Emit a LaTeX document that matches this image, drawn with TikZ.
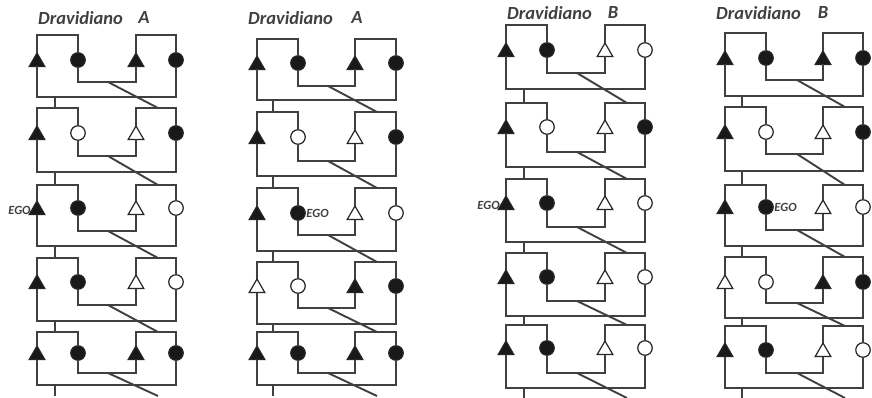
\documentclass[tikz,border=0pt]{standalone}
\usepackage{fontspec}
\newfontfamily\titlefont{Carlito}
\usetikzlibrary{shapes.geometric}
\tikzset{
  kin/.style={draw=black!75, line width=1.9pt},
  sym/.style={draw=black!85, line width=1.2pt, inner sep=0pt, outer sep=0pt},
  trifill/.style={sym, regular polygon, regular polygon sides=3, minimum size=18pt, fill=black!90, yshift=-2pt},
  triopen/.style={sym, regular polygon, regular polygon sides=3, minimum size=18pt, fill=white, yshift=-2pt},
  circfill/.style={sym, circle, minimum size=14.5pt, fill=black!90},
  circopen/.style={sym, circle, minimum size=14.5pt, fill=white},
  ttl/.style={text=black!75, font=\titlefont\bfseries\itshape\fontsize{18.5}{18.5}\selectfont, inner sep=0pt},
  ego/.style={text=black!75, font=\titlefont\bfseries\itshape\fontsize{12.5}{12.5}\selectfont, inner sep=1pt}
}
\newcommand{\kinrows}[1]{%
  \foreach \r/\ys/\ym/\yu/\yb/\yn/\sa/\sb/\sc/\sd in #1 {
    \node[\sa] (c\cc a\r) at (\xa,\ym) {};
    \node[\sb] (c\cc b\r) at (\xb,\ym) {};
    \node[\sc] (c\cc c\r) at (\xc,\ym) {};
    \node[\sd] (c\cc f\r) at (\xf,\ym) {};
    \coordinate (c\cc s\r) at (\xd,\ys);
    \coordinate (c\cc e\r) at (\xe,\ys);
    \coordinate (c\cc u\r) at (\xs,\yu);
    \coordinate (c\cc v\r) at (\xd,\yb);
    \coordinate (c\cc n\r) at (\xd,\yn);
    \coordinate (c\cc m\r) at (\xe,\yn);
    \draw[kin] (c\cc a\r.north) |- (c\cc s\r) -| (c\cc b\r.north);
    \draw[kin] (c\cc c\r.north) |- (c\cc e\r) -| (c\cc f\r.north);
    \draw[kin] (c\cc b\r.south) |- (c\cc u\r) -| (c\cc c\r.south);
    \draw[kin] (c\cc a\r.south) |- (c\cc v\r) -| (c\cc f\r.south);
    \draw[kin] (c\cc v\r) -- (c\cc n\r);
    \draw[kin] (c\cc u\r) -- (c\cc m\r);
  }%
}
\begin{document}
\begin{tikzpicture}[x=1pt,y=-1pt]
\useasboundingbox[fill=white] (0,0) rectangle (872,398);
% column 1
\def\cc{1}\def\xa{37}\def\xb{78}\def\xc{136}\def\xf{176}\def\xd{55}\def\xs{108}\def\xe{158}
\kinrows{{1/35/60/82/97/108/trifill/circfill/trifill/circfill,
 2/108/133/156/172/185/trifill/circopen/triopen/circfill,
 3/185/208/231/246/258/trifill/circfill/triopen/circopen,
 4/258/282/305/321/332/trifill/circfill/triopen/circopen,
 5/332/353/373/385/396/trifill/circfill/trifill/circfill}}
\node[ttl, anchor=west] (t1) at (38,18) {Dravidiano};
\node[ttl] (t1b) at (144,18) {A};
\node[ego, anchor=east] (ego1) at (c1a3.west) {EGO};
% column 2
\def\cc{2}\def\xa{257}\def\xb{298}\def\xc{355}\def\xf{396}\def\xd{273}\def\xs{328}\def\xe{377}
\kinrows{{1/39/63/86/100/112/trifill/circfill/trifill/circfill,
 2/112/137/161/176/188/trifill/circopen/triopen/circfill,
 3/188/213/235/251/262/trifill/circfill/triopen/circopen,
 4/262/286/308/324/332/triopen/circopen/trifill/circfill,
 5/332/353/373/385/396/trifill/circfill/trifill/circfill}}
\node[ttl, anchor=west] (t2) at (248,18) {Dravidiano};
\node[ttl] (t2b) at (357,18) {A};
\node[ego, anchor=west] (ego2) at (c2b3.east) {EGO};
% column 3
\def\cc{3}\def\xa{506}\def\xb{547}\def\xc{605}\def\xf{645}\def\xd{524}\def\xs{577}\def\xe{627}
\kinrows{{1/25/50/73/89/103/trifill/circfill/triopen/circopen,
 2/103/127/152/167/179/trifill/circopen/triopen/circfill,
 3/179/203/227/242/253/trifill/circfill/triopen/circopen,
 4/253/277/301/316/325/trifill/circfill/triopen/circopen,
 5/325/348/373/388/398/trifill/circfill/triopen/circopen}}
\node[ttl, anchor=west] (t3) at (507,13) {Dravidiano};
\node[ttl] (t3b) at (613,13) {B};
\node[ego, anchor=east] (ego3) at (c3a3.west) {EGO};
% column 4
\def\cc{4}\def\xa{725}\def\xb{766}\def\xc{823}\def\xf{863}\def\xd{742}\def\xs{797}\def\xe{845}
\kinrows{{1/33/58/80/96/107/trifill/circfill/trifill/circfill,
 2/107/132/154/171/185/trifill/circopen/triopen/circfill,
 3/185/207/230/246/257/trifill/circfill/triopen/circopen,
 4/257/282/303/318/326/triopen/circopen/trifill/circfill,
 5/326/350/373/388/398/trifill/circfill/triopen/circopen}}
\node[ttl, anchor=west] (t4) at (716,13) {Dravidiano};
\node[ttl] (t4b) at (823,13) {B};
\node[ego, anchor=west] (ego4) at (c4b3.east) {EGO};
\end{tikzpicture}
\end{document}
